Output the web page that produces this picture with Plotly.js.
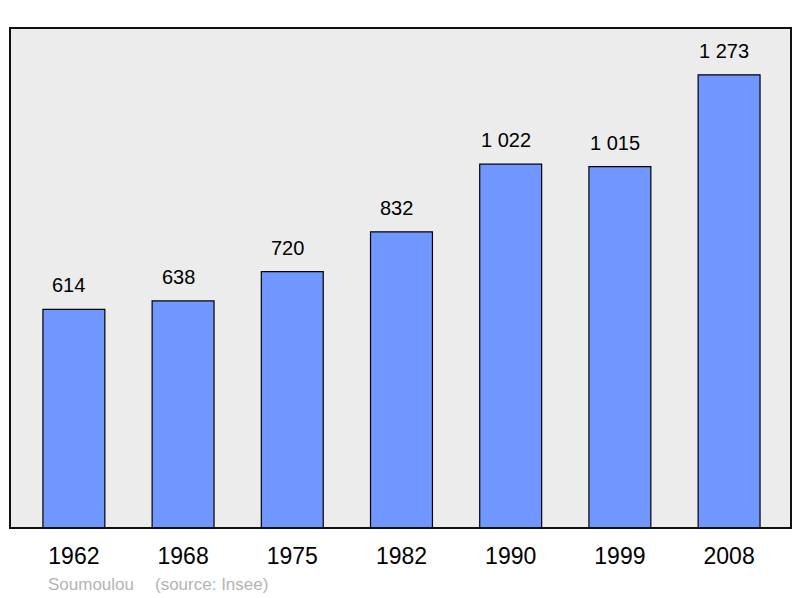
<!DOCTYPE html>
<html><head><meta charset="utf-8">
<script src="https://cdn.plot.ly/plotly-3.0.1.min.js"></script>
<style>html,body{margin:0;padding:0;background:#fff;}</style>
</head><body>
<div id="chart" style="width:800px;height:598px;"></div>
<script>
const years = ["1962","1968","1975","1982","1990","1999","2008"];
const population = [614, 638, 720, 832, 1022, 1015, 1273];
const commune = "Soumoulou";
const sourceText = "(source: Insee)";

function fmt(v){ return String(v).replace(/\B(?=(\d{3})+(?!\d))/g, " "); }

const FONT = "Liberation Sans, Arial, sans-serif";
const trace = {
  type: "bar", x: years, y: population, width: 0.567,
  marker: {color: "#7097ff", line: {color: "#000", width: 1.2}},
  hoverinfo: "none"
};
const annotations = years.map((y,i)=>({
  x: i, y: population[i], xref: "x", yref: "y", text: fmt(population[i]),
  showarrow: false, yshift: 24, xshift: -5, font: {family: FONT, size: 20, color: "#000"}
}));
annotations.push({xref:"paper", yref:"paper", x: 0.046, y: -0.112, xanchor:"left", yanchor:"middle",
  text: commune, showarrow:false, font:{family:FONT, size:17, color:"#b4b4b4"}});
annotations.push({xref:"paper", yref:"paper", x: 0.1825, y: -0.112, xanchor:"left", yanchor:"middle",
  text: sourceText, showarrow:false, font:{family:FONT, size:17, color:"#b4b4b4"}});

const layout = {
  width: 800, height: 598,
  margin: {l: 10, r: 9, t: 28, b: 70},
  paper_bgcolor: "#fff", plot_bgcolor: "#ececec",
  showlegend: false,
  xaxis: {type: "category", range: [-0.585, 6.567], showgrid: false, zeroline: false,
    ticks: "", ticklabelstandoff: 12, tickfont: {family: FONT, size: 23, color: "#000"}},
  yaxis: {range: [0, 1404.6], showgrid: false, zeroline: false, showticklabels: false, ticks: ""},
  shapes: [{type: "rect", xref: "paper", yref: "paper", x0: 0, x1: 1, y0: 0, y1: 1,
    line: {color: "#111", width: 2}}],
  annotations: annotations
};
Plotly.newPlot("chart", [trace], layout, {staticPlot: true});
</script>
</body></html>
